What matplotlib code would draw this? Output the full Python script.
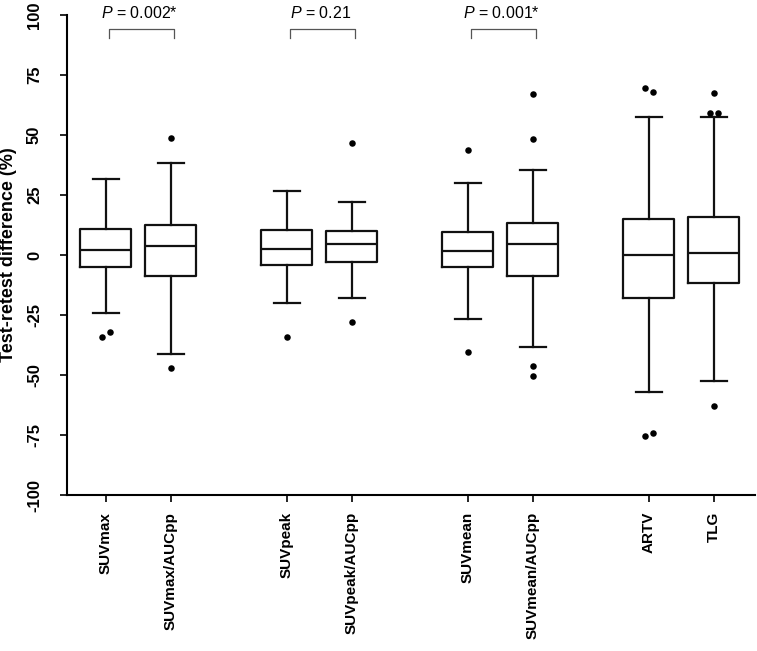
import numpy as np
import matplotlib
matplotlib.use('Agg')
import matplotlib.pyplot as plt

plt.rcParams['font.family'] = ['Liberation Sans', 'DejaVu Sans']
plt.rcParams['mathtext.fontset'] = 'custom'
plt.rcParams['mathtext.it'] = 'Liberation Sans:italic'
plt.rcParams['mathtext.rm'] = 'Liberation Sans'

# box statistics (test-retest difference, %)
labels = ['SUVmax', 'SUVmax/AUCpp', 'SUVpeak', 'SUVpeak/AUCpp',
          'SUVmean', 'SUVmean/AUCpp', 'ARTV', 'TLG']
whislo = [-24.0, -41.1, -19.9, -17.8, -26.5, -38.2, -57.0, -52.4]
q1 = [-4.9, -8.6, -4.2, -2.9, -4.9, -8.6, -17.8, -11.5]
med = [2.1, 3.8, 2.6, 4.6, 1.8, 4.6, -0.1, 1.0]
q3 = [11.0, 12.6, 10.5, 9.9, 9.6, 13.2, 15.0, 16.0]
whishi = [31.5, 38.2, 26.8, 22.1, 30.1, 35.4, 57.5, 57.5]
outliers = [
    [-34.3, -32.0],
    [48.6, -47.0],
    [-34.0],
    [46.7, -27.9],
    [43.9, -40.3],
    [67.2, 48.3, -46.3, -50.3],
    [69.4, 67.9, -75.4, -74.2],
    [67.6, 59.3, 59.0, -62.8],
]
p_texts = ['0.002*', '0.21', '0.001*']

# layout: pairs of boxes with a gap between groups
group_step = 2.785
pos = []
for g in range(4):
    pos += [g * group_step, g * group_step + 1]

fig = plt.figure(figsize=(7.57, 6.51), dpi=100)
ax = fig.add_axes([0.0885, 0.2396, 0.9085, 0.7374])

stats = []
for i in range(len(labels)):
    stats.append(dict(med=med[i], q1=q1[i], q3=q3[i],
                      whislo=whislo[i], whishi=whishi[i], fliers=[]))

lw = 1.6
ax.bxp(stats, positions=pos, widths=0.785, showfliers=False,
       boxprops=dict(color='#111111', linewidth=lw),
       medianprops=dict(color='#111111', linewidth=lw),
       whiskerprops=dict(color='#111111', linewidth=lw),
       capprops=dict(color='#111111', linewidth=lw), capwidths=0.4)

# outliers, nudged sideways when two sit at nearly the same value
for i, vals in enumerate(outliers):
    vals = np.array(vals)
    xs = np.full(len(vals), float(pos[i]))
    for a in range(len(vals)):
        for b in range(a + 1, len(vals)):
            if abs(vals[a] - vals[b]) < 3.5:
                xs[a] -= 0.06
                xs[b] += 0.06
    ax.scatter(xs, vals, s=22, color='black', zorder=3, linewidths=0)

# significance brackets
for g, txt in enumerate(p_texts):
    x0 = pos[2 * g] + 0.05
    x1 = pos[2 * g + 1] + 0.05
    ax.plot([x0, x0, x1, x1], [90.5, 94.2, 94.2, 90.5], color='#555555',
            lw=0.9, clip_on=False)
    ax.text(pos[2 * g] + 0.52, 101, r'$P$ = ' + txt, ha='center',
            va='center', fontsize=11.5, clip_on=False)

ax.set_xlim(-0.6, 9.985)
ax.set_ylim(-100, 100)
ax.set_yticks(np.arange(-100, 101, 25))
ax.set_yticklabels([str(v) for v in range(-100, 101, 25)], rotation=90,
                   va='center', fontweight='bold', fontsize=12)
ax.set_xticks(pos)
ax.set_xticklabels(labels, rotation=90, fontweight='bold', fontsize=11)

for s in ['top', 'right']:
    ax.spines[s].set_visible(False)
for s in ['left', 'bottom']:
    ax.spines[s].set_linewidth(1.5)
ax.tick_params(axis='y', length=5, width=1.2, pad=13)
ax.tick_params(axis='x', length=5, width=1.2, pad=7)

ax.set_ylabel('Test-retest difference (%)', fontweight='bold', fontsize=13)
ax.yaxis.set_label_coords(-0.073, 0.5)

fig.savefig('out.png', dpi=100)
